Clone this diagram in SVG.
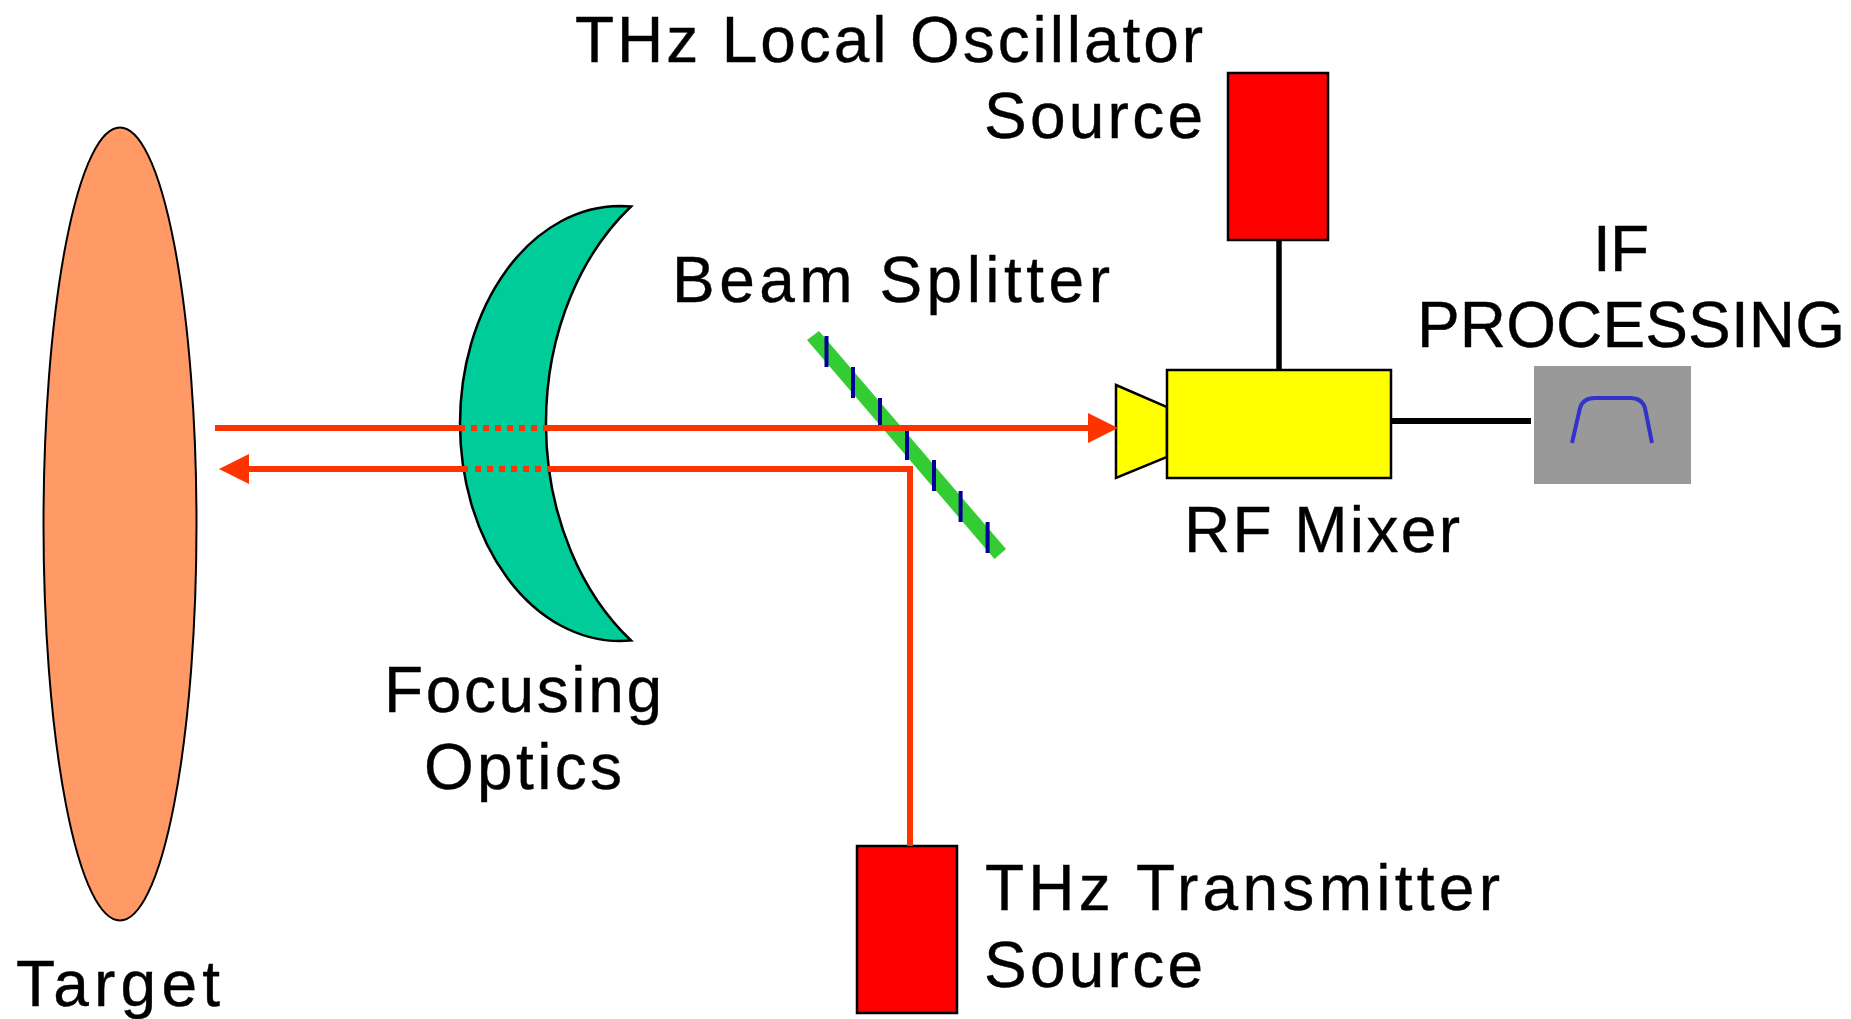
<svg xmlns="http://www.w3.org/2000/svg" width="1851" height="1019" viewBox="0 0 1851 1019">
<style>
.t{font-family:"Liberation Sans",Arial,sans-serif;font-size:64px;fill:#000;stroke:#000;stroke-width:0.4}
.r{fill:#ff3300;stroke:none}
.b{stroke:#ff3300;stroke-width:6;fill:none}
.d{stroke:#ff3300;stroke-width:6;stroke-dasharray:6 6;fill:none}
.k{stroke:#000;fill:none}
.n{stroke:#000099;stroke-width:4;fill:none}
</style>
<rect width="1851" height="1019" fill="#fff"/>
<g id="target"><ellipse cx="120" cy="524" rx="76.500" ry="396.500" fill="#ff9966" stroke="#000" stroke-width="2"/><text class="t" x="16" y="1006" textLength="204" lengthAdjust="spacing">Target</text></g>
<g id="lens"><path d="M631 206.500L620 206A160 217.500 0 0 0 620 641L631 640.500A210 270 0 0 1 631 206.500Z" fill="#00cc99" stroke="#000" stroke-width="2.500"/><text class="t" x="384" y="712" textLength="278" lengthAdjust="spacing">Focusing</text><text class="t" x="424" y="789" textLength="198" lengthAdjust="spacing">Optics</text></g>
<g id="splitter"><polygon points="807,340 819,331 1006,549 994.500,559" fill="#33cc33"/>
<path class="n" d="M826.500 336V367M853 367V398M880 398V428M907 431V460M934 460V491M960.600 491V522M987.600 522V553"/>
<text class="t" x="672" y="302" textLength="438" lengthAdjust="spacing">Beam Splitter</text></g>
<g id="mixer"><polygon points="1116,385 1167,407 1167,457 1116,478" fill="#ff0" stroke="#000" stroke-width="2.500"/><rect x="1167" y="370" width="224" height="108" fill="#ff0" stroke="#000" stroke-width="2.500"/><text class="t" x="1184" y="552" textLength="276" lengthAdjust="spacing">RF Mixer</text></g>
<g id="lo"><rect x="1228" y="73" width="100" height="167" fill="#f00" stroke="#000" stroke-width="2.500"/><text class="t" x="575" y="62" textLength="628" lengthAdjust="spacing">THz Local Oscillator</text><text class="t" x="984" y="138" textLength="219" lengthAdjust="spacing">Source</text></g>
<g id="tx"><rect x="857" y="846" width="100" height="167" fill="#f00" stroke="#000" stroke-width="2.500"/><text class="t" x="985" y="910" textLength="515" lengthAdjust="spacing">THz Transmitter</text><text class="t" x="984" y="987" textLength="219" lengthAdjust="spacing">Source</text></g>
<g id="if"><rect x="1534" y="366" width="157" height="118" fill="#999"/><path d="M1572 443L1580 408Q1583 398 1595 398H1630Q1642 398 1645 408L1652 443" stroke="#3333cc" stroke-width="4" fill="none"/><text class="t" x="1593" y="271" textLength="56" lengthAdjust="spacing">IF</text><text class="t" x="1417" y="347" textLength="428" lengthAdjust="spacing">PROCESSING</text></g>
<g id="connectors">
<path class="b" d="M215 428H465M543 428H1090"/><path class="d" d="M471 428H543"/>
<polygon class="r" points="1118,428 1088,413 1088,443"/>
<path class="b" d="M910 846V469H547M468 469H245"/><path class="d" d="M475 469H547"/>
<polygon class="r" points="219,469 249,454 249,484"/>
<path class="k" stroke-width="5.500" d="M1279 240V370"/>
<path class="k" stroke-width="6" d="M1391 421H1531"/>
</g>
</svg>
